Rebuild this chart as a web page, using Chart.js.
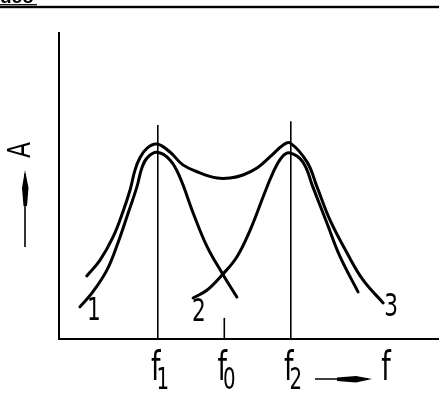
<!DOCTYPE html>
<html><head><meta charset="utf-8">
<script src="https://cdn.jsdelivr.net/npm/chart.js@4"></script>
<style>html,body{margin:0;padding:0;background:#fff;overflow:hidden}#wrap{width:439px;height:394px;position:relative}</style>
</head><body><div id="wrap"><canvas id="c" width="439" height="394"></canvas></div>
<script>
// Resonance curve at f1 (curve 1)
const curve1X = [5.5, 8.9, 12.6, 15.5, 18.2, 20.5, 21.8, 23.2, 25.8, 29.2, 31.8, 35.3, 39.0, 42.9, 46.8];
const curve1Y = [10.5, 15.4, 22.5, 31.4, 41.2, 49.7, 55.9, 59.2, 61.0, 58.5, 52.9, 41.2, 30.1, 21.6, 13.7];
// Resonance curve at f2 (curve 2)
const curve2X = [35.3, 39.0, 42.9, 46.8, 50.3, 53.7, 56.3, 58.7, 60.8, 64.2, 66.8, 70.5, 74.0, 78.7];
const curve2Y = [13.4, 16.0, 20.9, 26.8, 35.6, 46.4, 54.3, 59.5, 60.8, 57.8, 49.7, 37.9, 26.8, 15.4];
// Combined response (curve 3)
const curve3X = [7.3, 10.8, 14.2, 16.8, 18.7, 20.0, 21.3, 23.2, 25.8, 29.2, 32.6, 37.1, 41.6, 45.0, 48.4, 52.1, 55.5, 59.0, 60.8, 65.3, 67.9, 71.3, 75.8, 80.0, 85.3];
const curve3Y = [20.6, 25.8, 33.3, 41.5, 48.7, 55.2, 59.2, 62.4, 63.7, 61.1, 56.9, 54.3, 52.6, 52.6, 53.6, 55.9, 59.5, 63.4, 64.1, 57.8, 49.7, 38.9, 28.1, 19.3, 11.8];
// Marker frequencies and their tick labels
const tickValues = [26, 43.5, 61];
const tickNames = ['f', 'f', 'f'];
const tickSubs = ['1', '0', '2'];
// Heights of the vertical marker lines
const markerTops = [69.9, 6.9, 71.2];
// Curve number labels
const curveLabels = ['1', '2', '3'];
const curveLabelX = [9.2, 36.8, 87.4];
const curveLabelY = [8.8, 8.5, 10.1];
const xTitle = 'f';
const yTitle = 'A';
const headerText = 'uco';

const pts = (xs, ys) => xs.map((x, i) => ({x: x, y: ys[i]}));
const curveStyle = {showLine: true, borderColor: '#000', borderWidth: 3, pointRadius: 0, tension: 0.4, fill: false, borderCapStyle: 'round', borderJoinStyle: 'round'};
const lineStyle = {showLine: true, borderColor: '#000', borderWidth: 1.6, pointRadius: 0, tension: 0, fill: false};

const datasets = [
  Object.assign({label: 'curve1', data: pts(curve1X, curve1Y)}, curveStyle),
  Object.assign({label: 'curve2', data: pts(curve2X, curve2Y)}, curveStyle),
  Object.assign({label: 'curve3', data: pts(curve3X, curve3Y)}, curveStyle)
];
tickValues.forEach((v, i) => {
  datasets.push(Object.assign({label: 'marker' + i, data: [{x: v, y: 0}, {x: v, y: markerTops[i]}]}, lineStyle));
});

const FONT = '"Liberation Sans Narrow", "DejaVu Sans Condensed", sans-serif';
function stretchText(ctx, text, x, y, size, sy, weight) {
  ctx.save();
  ctx.translate(x, y);
  ctx.scale(1, sy);
  ctx.font = (weight || '') + ' ' + size + 'px ' + FONT;
  ctx.textAlign = 'center';
  ctx.textBaseline = 'middle';
  ctx.fillText(text, 0, 0);
  ctx.restore();
}

const annot = {
  id: 'annot',
  afterDraw(chart) {
    const ctx = chart.ctx, xs = chart.scales.x, ys = chart.scales.y, a = chart.chartArea;
    ctx.save();
    ctx.fillStyle = '#000';
    ctx.strokeStyle = '#000';
    // header rule and cut-off heading
    ctx.fillRect(0, 5.8, 439, 2.4);
    ctx.font = 'bold 19px "Liberation Sans", sans-serif';
    ctx.textAlign = 'left';
    ctx.textBaseline = 'alphabetic';
    ctx.fillText(headerText, 0, 3.4);
    ctx.fillRect(0, 4.1, 37, 1.2);
    // tick labels
    tickValues.forEach((v, i) => {
      const px = xs.getPixelForValue(v);
      stretchText(ctx, tickNames[i], px - 2, a.bottom + 30, 30, 1.35);
      stretchText(ctx, tickSubs[i], px + 5, a.bottom + 42, 22, 1.35);
    });
    // curve numbers
    curveLabels.forEach((t, i) => {
      stretchText(ctx, t, xs.getPixelForValue(curveLabelX[i]), ys.getPixelForValue(curveLabelY[i]), 24, 1.3);
    });
    // x-axis title with arrow
    const ay = a.bottom + 40;
    ctx.lineWidth = 1.6;
    ctx.beginPath(); ctx.moveTo(315, ay); ctx.lineTo(368, ay); ctx.stroke();
    ctx.beginPath();
    ctx.moveTo(337, ay - 1.5); ctx.lineTo(356, ay - 3); ctx.lineTo(372, ay);
    ctx.lineTo(356, ay + 3.5); ctx.lineTo(337, ay + 2);
    ctx.closePath(); ctx.fill();
    stretchText(ctx, xTitle, 386, a.bottom + 30, 30, 1.35);
    // y-axis title with arrow
    const ax = 25;
    ctx.beginPath(); ctx.moveTo(ax, 247); ctx.lineTo(ax, 174); ctx.stroke();
    ctx.beginPath();
    ctx.moveTo(ax - 1.5, 206); ctx.lineTo(ax - 3, 188); ctx.lineTo(ax, 170);
    ctx.lineTo(ax + 3.5, 188); ctx.lineTo(ax + 2, 206);
    ctx.closePath(); ctx.fill();
    ctx.save();
    ctx.translate(22, 150);
    ctx.rotate(-Math.PI / 2);
    ctx.scale(1, 1.25);
    ctx.font = '26px ' + FONT;
    ctx.textAlign = 'center';
    ctx.textBaseline = 'middle';
    ctx.fillText(yTitle, 0, 0);
    ctx.restore();
    ctx.restore();
  }
};

new Chart(document.getElementById('c'), {
  type: 'scatter',
  data: {datasets: datasets},
  options: {
    responsive: false,
    animation: false,
    devicePixelRatio: 1,
    layout: {padding: {top: 33, left: 0, right: 0, bottom: 0}},
    plugins: {legend: {display: false}, tooltip: {enabled: false}},
    scales: {
      x: {
        type: 'linear', min: 0, max: 100,
        grid: {display: false},
        border: {display: true, color: '#000', width: 2},
        ticks: {display: false},
        afterFit(s) { s.height = 55; }
      },
      y: {
        type: 'linear', min: 0, max: 100,
        grid: {display: false},
        border: {display: true, color: '#000', width: 2},
        ticks: {display: false},
        afterFit(s) { s.width = 59; }
      }
    }
  },
  plugins: [annot]
});
</script>
</body></html>
